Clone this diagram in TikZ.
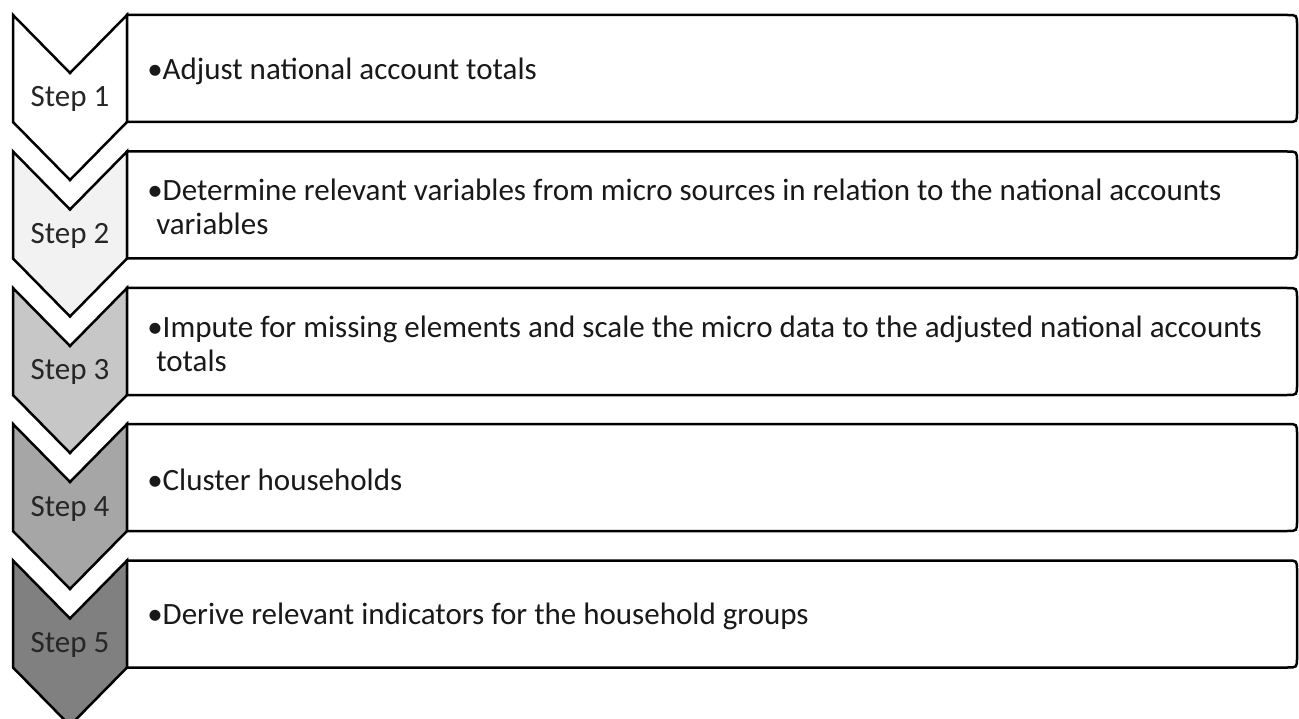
\documentclass[tikz,border=0pt]{standalone}
\usepackage{fontspec}
\setmainfont{Carlito}
\usetikzlibrary{positioning}

\begin{document}
\begin{tikzpicture}[x=1pt,y=-1pt,line width=2.5pt,font=\fontsize{31}{34}\selectfont]
  \tikzstyle{chevron}=[draw=black, line join=miter]
  \tikzstyle{stepbox}=[draw=black, fill=white]
  \tikzstyle{steplabel}=[anchor=base, inner sep=0pt, text=black!85]
  \tikzstyle{itemtext}=[anchor=west, align=left, inner sep=0pt, text=black!90]

  \useasboundingbox (0,0) rectangle (1299,719);

  % step 1
  \draw[chevron, fill=white] (13,15) -- (70,73) -- (127,15) -- (127,122) -- (70,180) -- (13,122) -- cycle;
  \draw[stepbox] (127,15) -- (1287,15) .. controls (1297,15) .. (1297,25) -- (1297,112) .. controls (1297,122) .. (1287,122) -- (127,122) -- cycle;
  \node[steplabel] (s_1) at (70,107) {Step 1};
  \node[itemtext] (t_1) at (146,71) {\textbullet Adjust national account totals};

  % step 2
  \draw[chevron, fill=black!5] (13,151.5) -- (70,209.5) -- (127,151.5) -- (127,258.5) -- (70,316.5) -- (13,258.5) -- cycle;
  \draw[stepbox] (127,151.5) -- (1287,151.5) .. controls (1297,151.5) .. (1297,161.5) -- (1297,248.5) .. controls (1297,258.5) .. (1287,258.5) -- (127,258.5) -- cycle;
  \node[steplabel] (s_2) at (70,243.5) {Step 2};
  \node[itemtext] (t_2) at (146,207) {\textbullet Determine relevant variables from micro sources in relation to the national accounts\\\hspace*{9pt}variables};

  % step 3
  \draw[chevron, fill=black!22] (13,288) -- (70,346) -- (127,288) -- (127,395) -- (70,453) -- (13,395) -- cycle;
  \draw[stepbox] (127,288) -- (1287,288) .. controls (1297,288) .. (1297,298) -- (1297,385) .. controls (1297,395) .. (1287,395) -- (127,395) -- cycle;
  \node[steplabel] (s_3) at (70,380) {Step 3};
  \node[itemtext] (t_3) at (146,343.5) {\textbullet Impute for missing elements and scale the micro data to the adjusted national accounts\\\hspace*{9pt}totals};

  % step 4
  \draw[chevron, fill=black!35] (13,424) -- (70,482) -- (127,424) -- (127,531) -- (70,589) -- (13,531) -- cycle;
  \draw[stepbox] (127,424) -- (1287,424) .. controls (1297,424) .. (1297,434) -- (1297,521) .. controls (1297,531) .. (1287,531) -- (127,531) -- cycle;
  \node[steplabel] (s_4) at (70,516) {Step 4};
  \node[itemtext] (t_4) at (146,480) {\textbullet Cluster households};

  % step 5
  \draw[chevron, fill=black!50] (13,560.5) -- (70,618.5) -- (127,560.5) -- (127,667.5) -- (70,725.5) -- (13,667.5) -- cycle;
  \draw[stepbox] (127,560.5) -- (1287,560.5) .. controls (1297,560.5) .. (1297,570.5) -- (1297,657.5) .. controls (1297,667.5) .. (1287,667.5) -- (127,667.5) -- cycle;
  \node[steplabel] (s_5) at (70,652.5) {Step 5};
  \node[itemtext] (t_5) at (146,616) {\textbullet Derive relevant indicators for the household groups};
\end{tikzpicture}
\end{document}
